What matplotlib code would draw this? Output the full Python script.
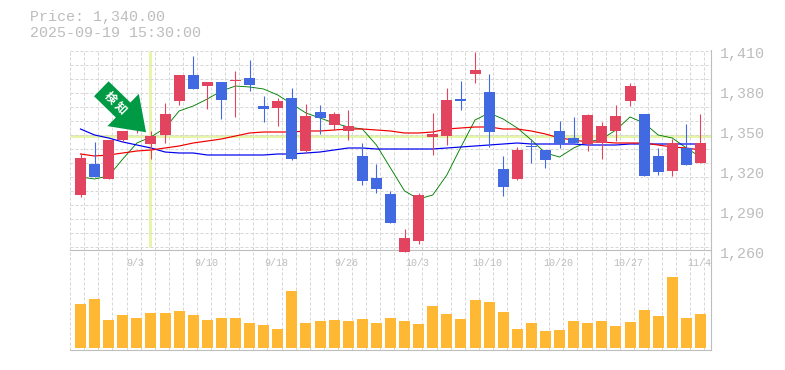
import numpy as np
import matplotlib
matplotlib.use("Agg")
import matplotlib.pyplot as plt
from matplotlib.transforms import ScaledTranslation

# ---- data ----
open_ = [1301.25,1324.5,1313.25,1342.5,1350,1339.5,1346.25,1371.75,1391.25,1383,1386,1386.75,1389,1368,1366.5,1374,
         1334.25,1363.5,1353.75,1349.25,1330.5,1314,1302,1258.5,1266.75,1344.75,1345.5,1373.25,1392,1378.5,1320.75,1313.25,
         1338,1335,1349.25,1344,1339.5,1340.25,1349.25,1371.75,1362,1330.5,1319.25,1336.5,1325.25]
close = [1329,1314.75,1342.5,1349.25,1354,1345.5,1362,1391.25,1380.75,1386,1372.5,1387.5,1383.75,1365.75,1371.75,1328.25,
         1360.5,1359,1362,1353,1311.75,1305.75,1280.25,1269,1301.25,1347,1372.5,1371.75,1395,1348.5,1307.25,1335,
         1337.25,1327.5,1339.5,1340.25,1361.25,1353,1360.5,1383,1315.5,1318.5,1340.25,1323.75,1340.25]
high =  [1332.5,1341,1342.5,1349.25,1354,1349.25,1370.25,1391.25,1405.5,1386,1386,1394.25,1402.5,1375.5,1374,1381.5,
         1369.5,1368.75,1363.5,1365,1340.25,1324.5,1304.25,1275.75,1302.75,1362.75,1381.5,1386.75,1408.5,1392,1330.5,1337.25,
         1343.25,1335,1356.75,1359.75,1362,1356,1368.75,1385.25,1362,1336.5,1343.25,1354.5,1362]
low =   [1299.75,1314.75,1313.25,1341.75,1347.75,1328.25,1340.25,1368.75,1380.75,1365.75,1358.25,1359.75,1379.25,1356,1353,1327.5,
         1332.75,1347,1350,1342.5,1308.75,1302.75,1280.25,1258.5,1264.5,1331.25,1338.75,1365,1385.25,1337.25,1300.5,1312.5,
         1325.25,1321.5,1336.5,1340.25,1334.25,1328.25,1341.75,1368,1315.5,1316.25,1315.5,1323.75,1325.25]
ma_short = [1314.75,1313.25,1315.5,1328.25,1340.25,1344.75,1351.5,1364.25,1368,1373.25,1379.25,1383,1382.25,1380.75,1376.25,1369.5,
            1362.75,1359,1355.25,1352.25,1350.75,1338.75,1321.5,1304.25,1298.25,1301.25,1316.25,1337.25,1357.5,1362.75,1358.25,1351.5,
            1342.5,1332.75,1329.75,1336.5,1341,1343.25,1350,1359.75,1355.25,1346.25,1344,1336.5,1329.75]
ma_mid = [1332,1330.5,1331.25,1332.75,1334.25,1335,1336.5,1338,1340.25,1341.75,1343.25,1345.5,1347.75,1348.5,1348.5,1348.5,
          1349.25,1349.25,1350,1350.75,1350.75,1350,1349.25,1347.75,1347.75,1348.5,1350.75,1351.5,1352.25,1352.25,1350.75,1350.75,
          1349.25,1347,1344,1342.5,1341,1341,1340.25,1340.25,1340.25,1338.75,1337.25,1336.5,1335]
ma_long = [1350.75,1346.25,1344,1341,1338.75,1336.5,1333.5,1332.75,1332.75,1331.25,1331.25,1331.25,1331.25,1331.25,1332,1332,
           1332.75,1333.5,1335,1336.5,1336.5,1335.75,1335.75,1335.75,1335.75,1335.75,1336.5,1337.25,1338,1338.75,1339.5,1340.25,
           1339.5,1339.5,1339.5,1339.5,1338.75,1338.75,1338.75,1339.5,1339.5,1339.5,1339.5,1339.5,1339.5]
volume = [44,49,28,33,30,35,35,37,33,28,30,30,25,23,19,57,25,27,28,27,29,25,30,
          27,24,42,34,29,48,46,36,19,25,17,18,27,25,27,22,26,38,32,71,30,34]
date_labels = ["9/3","9/10","9/18","9/26","10/3","10/10","10/20","10/27","11/4"]
date_index = [4,9,14,19,24,29,34,39,44]
price_ticks = [1410,1380,1350,1320,1290,1260]
selected_index = 5
selected_price = 1345.5
title_lines = ["Price: 1,340.00", "2025-09-19 15:30:00"]
signal_label = "検 知"

# ---- style ----
W, H = 785, 370
RED, BLUE, ORANGE = "#E2435F", "#4169E1", "#FFB833"
GRID, BORDER, TEXT, LIME = "#D6D6D6", "#BEBEBE", "#BDBDBD", "#E6F6A8"
MONO = "Liberation Mono"
px = 72 / 100

fig = plt.figure(figsize=(W/100, H/100), dpi=100, facecolor="white")
L, R = 70, 710.5
axv = fig.add_axes([L/W, 1-350/H, (R-L)/W, 100/H], facecolor="none", zorder=1)
axp = fig.add_axes([L/W, 1-250/H, (R-L)/W, 200/H], facecolor="none", zorder=2)

xs = np.arange(len(close))
step = 14.09
xlim = (-(80.5-L)/step, (R-80.5)/step)
grid_x = np.arange(-1, 45) + 0.27

for ax in (axp, axv):
    ax.set_xlim(*xlim)
    ax.set_xticks(grid_x, minor=True)
    ax.grid(which="minor", axis="x", color=GRID, lw=1*px, ls=(0, (3, 2)), zorder=0)
    ax.tick_params(which="both", length=0)
    for s in ("left", "top"):
        ax.spines[s].set_visible(False)
    for s in ("right", "bottom"):
        ax.spines[s].set_color(BORDER)
        ax.spines[s].set_linewidth(1.1*px)

# price panel
axp.set_ylim(1260, 1410)
axp.set_yticks(np.arange(1262.25, 1410, 10.5), minor=True)
axp.grid(which="minor", axis="y", color=GRID, lw=1*px, ls=(0, (3, 2)), zorder=0)

axp.plot([xlim[0], xlim[1]], [selected_price]*2, color=LIME, lw=3*px, zorder=1, solid_capstyle="butt")
axp.plot([selected_index-0.05]*2, [1262, 1409], color=LIME, lw=3*px, zorder=1, solid_capstyle="butt")

axp.plot(xs, ma_short, color="#008000", lw=0.9*px, zorder=2)
axp.plot(xs, ma_long, color="#0000F0", lw=1.2*px, zorder=2)
axp.plot(xs, ma_mid, color="#F00000", lw=1.2*px, zorder=2)

colors = [RED if c >= o else BLUE for o, c in zip(open_, close)]
axp.vlines(xs, low, high, colors=colors, lw=1.1*px, zorder=3, clip_on=False)
axp.bar(xs, np.abs(np.subtract(close, open_)), bottom=np.minimum(open_, close), width=11/step,
        color=colors, zorder=3, clip_on=False, linewidth=0)

# volume panel
axv.set_ylim(-2, 98)
axv.set_yticks([])
axv.bar(xs, volume, width=11/step, color=ORANGE, zorder=3, linewidth=0)
axv.set_xticks([])

# tick labels
axp.yaxis.tick_right()
axp.set_yticks(price_ticks)
axp.set_yticklabels([f"{t:,}" for t in price_ticks], family=MONO, fontsize=10.8, color=TEXT)
axp.tick_params(axis="y", which="major", pad=9*px)
shift = ScaledTranslation(0, -3/100, fig.dpi_scale_trans)
for lab in axp.get_yticklabels():
    lab.set_transform(lab.get_transform() + shift)

axp.set_xticks(date_index)
axp.set_xticklabels(date_labels, family=MONO, fontsize=7.2, color=TEXT)
axp.tick_params(axis="x", which="major", pad=8*px)
shift_x = ScaledTranslation(-1.5/100, 0, fig.dpi_scale_trans)
for lab in axp.get_xticklabels():
    lab.set_transform(lab.get_transform() + shift_x)

# heading
fig.text(30/W, 1-17/H, title_lines[0], family=MONO, fontsize=10.8, color=TEXT, va="center")
fig.text(30/W, 1-33/H, title_lines[1], family=MONO, fontsize=10.8, color=TEXT, va="center")

# signal arrow
axp.annotate("", xy=(selected_index-0.35, selected_price+2.8), xycoords="data",
             xytext=(-44.7, 43.5), textcoords="offset pixels",
             arrowprops=dict(arrowstyle="simple,head_length=23,head_width=32.4,tail_width=15",
                             mutation_scale=1, color="#009944", lw=0, shrinkA=0, shrinkB=0),
             zorder=5, annotation_clip=False)
axp.annotate(signal_label, xy=(116/W, 1-103/H), xycoords="figure fraction", rotation=-45,
             rotation_mode="anchor", ha="center", va="center", color="white", fontsize=8.5,
             family=["Noto Sans CJK JP", "DejaVu Sans"], fontweight="bold", zorder=6)

fig.savefig("out.png", dpi=100)
